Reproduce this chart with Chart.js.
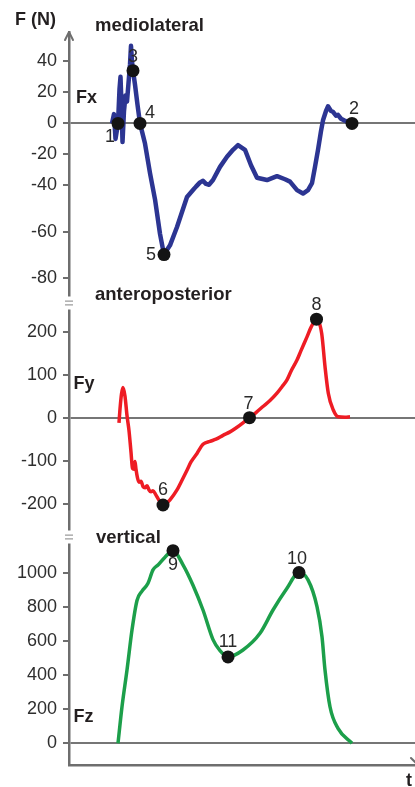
<!DOCTYPE html>
<html>
<head>
<meta charset="utf-8">
<script src="https://cdn.jsdelivr.net/npm/chart.js@4.4.1/dist/chart.umd.min.js"></script>
<style>
html,body{margin:0;padding:0;background:#fff;overflow:hidden}
#wrap{position:relative;width:415px;height:787px}
canvas{display:block}
</style>
</head>
<body>
<div id="wrap"><canvas id="c" width="415" height="787"></canvas></div>
<script>
// ---------- data (time in arbitrary units, force in N) ----------
const FX_T = [43,45,46.5,48,49,50.5,51.5,52.5,53.5,55,56.5,58,59.5,61,62,63,64,66,68.5,71,76,81,86,91,95,101,108,118,124,127,131,134,137,140,144,151,158,164,169,176,182,188,198,208,216,221,228,234,239,243,246,249,252,254,257,259,262,264,267,269,272,275,283];
const FX_V = [0,6,-10,-4,0,22,30,12,-12,8,18,14,26,38,50,40,34,25,12,0,-13,-32,-46,-61,-70,-66,-58,-45,-42,-40.5,-38,-37,-39,-39.5,-36.5,-28,-21.5,-17,-14,-17,-27,-35,-36.5,-34,-36,-37.5,-42,-43.5,-42,-38.5,-28,-17,-5,2,8,11,8,7.5,5,5.5,3,2,0];

const FY_T = [50,51,52.5,54,56,58,60,62,63.5,65,66,67,68.5,70,72,74,76,78,80,82,84,87,90,94,98,101,108,112,118,122,128,134,141,147,154,161,167,174,180.5,187,194,201,208,213,218,222,228,232,238,242,247.5,252.7,256,259.3,264.3,269.3,276,281];
const FY_V = [-12,20,55,70,50,5,-30,-80,-118,-120,-102,-120,-140,-150,-148,-160,-163,-158,-168,-172,-170,-180,-192,-203,-198,-191,-168,-150,-122,-103,-83,-62,-55,-50,-41,-33,-24,-12,0,12,26,40,57,72,88,108,134,156,188,210,229,196,119,57,18,2,1,2];

const FZ_T = [49,53,58,63,68,73,79,84,89,96,104,114,124,134,144,151,159,174,191,204,218,230,239,248,253,256,261,269,283];
const FZ_V = [0,215,431,666,840,895,941,1020,1049,1095,1133,1050,930,784,610,545,508,549,647,784,912,1004,961,804,627,431,215,88,0];

// key points (markers) and their numbers
const FX_MARK_T = [49,283,64,71,95];
const FX_MARK_V = [0,0,34,0,-70];
const FX_MARK_LBL = ['1','2','3','4','5'];
const FY_MARK_T = [94,180.5,247.5];
const FY_MARK_V = [-203,0,229];
const FY_MARK_LBL = ['6','7','8'];
const FZ_MARK_T = [104,230,159];
const FZ_MARK_V = [1133,1004,508];
const FZ_MARK_LBL = ['9','10','11'];

// tick labels
const FX_TICKS = [40,20,0,-20,-40,-60,-80];
const FY_TICKS = [200,100,0,-100,-200];
const FZ_TICKS = [1000,800,600,400,200,0];

// ---------- styling / layout ----------
const LABEL_OFFSETS = {'1':[-8,14],'2':[2,-14],'3':[0,-14],'4':[10,-10],'5':[-13,0],
  '6':[0,-15],'7':[-1,-14],'8':[0,-14],'9':[0,14],'10':[-2,-14],'11':[0,-15]};
const AXIS_COLOR = '#6e6e6e';
const ZERO_COLOR = '#767676';
const TEXT_COLOR = '#231f20';
const FONT = '"Liberation Sans", Arial, Helvetica, sans-serif';

// piecewise-linear scale: the original figure's Fx axis is compressed above -40 N
class BrokenLinearScale extends Chart.LinearScale {
  static id = 'brokenLinear';
  _f(v) {
    const b = this.options.breakAt, k = this.options.lowerFactor;
    return v >= b ? v : b + (v - b) * k;
  }
  getPixelForValue(value) {
    if (value === null || value === undefined || isNaN(value)) return NaN;
    const a = this._f(this.min), z = this._f(this.max);
    return this.getPixelForDecimal((this._f(value) - a) / (z - a));
  }
  getValueForPixel(pixel) {
    const a = this._f(this.min), z = this._f(this.max);
    const f = a + this.getDecimalForPixel(pixel) * (z - a);
    const b = this.options.breakAt, k = this.options.lowerFactor;
    return f >= b ? f : b + (f - b) / k;
  }
}
Chart.register(BrokenLinearScale);

function pts(T, V) { return T.map((t, i) => ({x: t, y: V[i]})); }

function yAxis(type, tickArr, min, max, weight, extra) {
  return Object.assign({
    type: type, position: 'left', stack: 'forces', stackWeight: weight,
    min: min, max: max, bounds: 'data',
    border: {display: true, color: AXIS_COLOR, width: 2.5},
    grid: {
      drawOnChartArea: true, drawTicks: true, tickLength: 6,
      tickColor: AXIS_COLOR, tickWidth: 2, lineWidth: 2,
      color: c => (c.tick && c.tick.value === 0) ? ZERO_COLOR : 'rgba(0,0,0,0)'
    },
    ticks: {
      padding: 6, color: '#2e2e2e', autoSkip: false,
      font: {family: FONT, size: 18},
      callback: v => String(v)
    },
    afterBuildTicks: s => { s.ticks = tickArr.map(v => ({value: v})); },
    afterFit: s => { s.width = 69; }
  }, extra || {});
}

const decor = {
  id: 'decor',
  afterDraw(chart) {
    const ctx = chart.ctx;
    const ax = chart.scales.yx.right;
    ctx.save();
    // arrow on vertical axis
    ctx.strokeStyle = AXIS_COLOR; ctx.lineWidth = 2; ctx.lineCap = 'round'; ctx.lineJoin = 'round';
    ctx.beginPath(); ctx.moveTo(ax - 4, 40); ctx.lineTo(ax, 32); ctx.lineTo(ax + 4, 40); ctx.stroke();
    // arrow on time axis (mostly cut off by the right edge)
    const by = chart.scales.x.top;
    ctx.beginPath(); ctx.moveTo(411, by - 7); ctx.lineTo(418, by); ctx.stroke();
    // axis breaks "="
    [chart.scales.yx.bottom + 1, chart.scales.yy.bottom].forEach(yc => {
      ctx.fillStyle = '#fff'; ctx.fillRect(ax - 3, yc - 6.5, 6, 13);
      ctx.strokeStyle = '#9c9c9c'; ctx.lineWidth = 1.3; ctx.lineCap = 'butt';
      ctx.beginPath();
      ctx.moveTo(ax - 4, yc - 1.8); ctx.lineTo(ax + 4, yc - 1.8);
      ctx.moveTo(ax - 4, yc + 1.8); ctx.lineTo(ax + 4, yc + 1.8);
      ctx.stroke();
    });
    // titles
    ctx.fillStyle = TEXT_COLOR; ctx.textBaseline = 'alphabetic'; ctx.textAlign = 'left';
    const T = (txt, x, y, size) => { ctx.font = 'bold ' + size + 'px ' + FONT; ctx.fillText(txt, x, y); };
    T('F (N)', 15, 25, 18);
    T('mediolateral', 95, 31, 18.5);
    T('Fx', 76, 103, 18);
    T('anteroposterior', 95, 300, 18.5);
    T('Fy', 73.5, 389, 18);
    T('vertical', 96, 542.5, 18.5);
    T('Fz', 73.5, 722, 18);
    T('t', 406, 786, 18);
    // numbers of key points
    ctx.font = '18px ' + FONT; ctx.textAlign = 'center'; ctx.textBaseline = 'middle'; ctx.fillStyle = '#2a2a2a';
    chart.data.datasets.forEach((ds, di) => {
      if (!ds.markLabels) return;
      const meta = chart.getDatasetMeta(di);
      meta.data.forEach((el, i) => {
        const lbl = ds.markLabels[i];
        const off = LABEL_OFFSETS[lbl] || [0, -14];
        ctx.fillText(lbl, el.x + off[0], el.y + off[1]);
      });
    });
    ctx.restore();
  }
};

const markerStyle = {type: 'line', showLine: false, pointRadius: 6.5, pointHoverRadius: 6.5,
  pointBackgroundColor: '#141414', pointBorderWidth: 0, order: 0};

new Chart(document.getElementById('c'), {
  type: 'line',
  data: {
    datasets: [
      Object.assign({label: 'Fx key points', data: pts(FX_MARK_T, FX_MARK_V), yAxisID: 'yx', markLabels: FX_MARK_LBL}, markerStyle),
      Object.assign({label: 'Fy key points', data: pts(FY_MARK_T, FY_MARK_V), yAxisID: 'yy', markLabels: FY_MARK_LBL}, markerStyle),
      Object.assign({label: 'Fz key points', data: pts(FZ_MARK_T, FZ_MARK_V), yAxisID: 'yz', markLabels: FZ_MARK_LBL}, markerStyle),
      {label: 'Fx', data: pts(FX_T, FX_V), yAxisID: 'yx', borderColor: '#2c3592', borderWidth: 4.5,
        pointRadius: 0, tension: 0, borderJoinStyle: 'round', order: 1},
      {label: 'Fy', data: pts(FY_T, FY_V), yAxisID: 'yy', borderColor: '#ee1c24', borderWidth: 3.5,
        pointRadius: 0, cubicInterpolationMode: 'monotone', borderJoinStyle: 'round', order: 1},
      {label: 'Fz', data: pts(FZ_T, FZ_V), yAxisID: 'yz', borderColor: '#1c9f4a', borderWidth: 3.5,
        pointRadius: 0, cubicInterpolationMode: 'monotone', borderJoinStyle: 'round', order: 1}
    ]
  },
  options: {
    responsive: false, animation: false, devicePixelRatio: 1,
    layout: {padding: {top: 32, bottom: 22, left: 0, right: 0}, autoPadding: false},
    plugins: {legend: {display: false}, tooltip: {enabled: false}},
    events: [],
    scales: {
      x: {
        type: 'linear', position: 'bottom', min: 0, max: 346,
        ticks: {display: false}, grid: {display: false, drawTicks: false},
        border: {display: true, color: AXIS_COLOR, width: 2.5},
        afterFit: s => { s.height = 0; }
      },
      yz: yAxis('linear', FZ_TICKS, -127.6, 1213.5, 228),
      yy: yAxis('linear', FY_TICKS, -277.4, 269, 235),
      yx: yAxis('brokenLinear', FX_TICKS, -90.6, 58.9, 270, {breakAt: -40, lowerFactor: 2.3 / 1.55})
    }
  },
  plugins: [decor]
});
</script>
</body>
</html>
